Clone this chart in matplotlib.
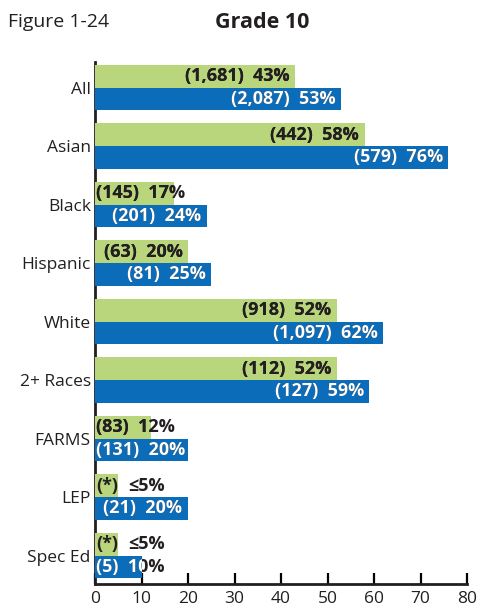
import matplotlib
matplotlib.use('Agg')
import matplotlib.pyplot as plt

plt.rcParams['font.family'] = ['Open Sans', 'DejaVu Sans']

# Data
groups = ['All', 'Asian', 'Black', 'Hispanic', 'White', '2+ Races', 'FARMS', 'LEP', 'Spec Ed']
green_pct = [43, 58, 17, 20, 52, 52, 12, 5, 5]
green_n = ['1,681', '442', '145', '63', '918', '112', '83', '*', '*']
blue_pct = [53, 76, 24, 25, 62, 59, 20, 20, 10]
blue_n = ['2,087', '579', '201', '81', '1,097', '127', '131', '21', '5']
x_ticks = [0, 10, 20, 30, 40, 50, 60, 70, 80]

GREEN = '#b9d67c'
BLUE = '#0b6dba'
DARK = '#231f20'
LBL_SIZE = 13

fig = plt.figure(figsize=(4.83, 6.07), dpi=100)
ax = fig.add_axes([95 / 483, 1 - 584 / 607, 372 / 483, 522 / 607])

h = 0.385
ypos = list(range(len(groups)))
gbars = ax.barh([y - h / 2 for y in ypos], green_pct, height=h, color=GREEN, zorder=3)
bbars = ax.barh([y + h / 2 for y in ypos], blue_pct, height=h, color=BLUE, zorder=3)

ax.set_xlim(0, 80)
ax.set_ylim(8.487, -0.436)
ax.set_xticks(x_ticks)
ax.set_yticks(ypos)
ax.set_yticklabels(groups, fontsize=12.5, color=DARK)
ax.tick_params(axis='x', direction='in', length=8, width=1.6, labelsize=12.5,
               labelcolor=DARK, pad=5)
ax.tick_params(axis='y', direction='in', length=8, width=1.6, pad=3)
for s in ['top', 'right']:
    ax.spines[s].set_visible(False)
for s in ['left', 'bottom']:
    ax.spines[s].set_linewidth(2)
    ax.spines[s].set_color(DARK)

fig.text(8 / 483, 1 - 22 / 607, 'Figure 1-24', fontsize=14, color=DARK, va='center')
fig.text(262 / 483, 1 - 22 / 607, 'Grade 10', fontsize=15.5, fontweight='bold',
         color=DARK, va='center', ha='center')

fig.canvas.draw()
renderer = fig.canvas.get_renderer()


def put_label(bar, text, inside_color):
    y = bar.get_y() + bar.get_height() / 2
    w = bar.get_width()
    kw = dict(fontsize=LBL_SIZE, fontweight='bold', va='center', zorder=5)
    t = ax.annotate(text, (w, y), xytext=(-4, 0), textcoords='offset points',
                    ha='right', color=DARK, **kw)
    ext = t.get_window_extent(renderer)
    x0 = ax.transData.transform((0, 0))[0]
    if ext.x0 < x0 + 1:
        t.remove()
        t = ax.annotate(text, (0, y), xytext=(1, 0), textcoords='offset points',
                        ha='left', color=DARK, **kw)
        t2 = ax.annotate(text, (0, y), xytext=(1, 0), textcoords='offset points',
                         ha='left', color=inside_color, **kw)
    else:
        t2 = ax.annotate(text, (w, y), xytext=(-4, 0), textcoords='offset points',
                         ha='right', color=inside_color, **kw)
    t2.set_clip_path(bar)
    t2.set_zorder(6)


for bar, n, p in zip(gbars, green_n, green_pct):
    if n == '*':
        y = bar.get_y() + bar.get_height() / 2
        ax.annotate('(*)', (0, y), xytext=(1, 0), textcoords='offset points',
                    ha='left', va='center', fontsize=LBL_SIZE, fontweight='bold',
                    color=DARK, zorder=5)
        ax.annotate('\u2264' + str(p) + '%', (0, y), xytext=(24, 0),
                    textcoords='offset points', ha='left', va='center',
                    fontsize=LBL_SIZE, fontweight='bold', color=DARK, zorder=5)
    else:
        put_label(bar, '(' + n + ')  ' + str(p) + '%', DARK)

for bar, n, p in zip(bbars, blue_n, blue_pct):
    put_label(bar, '(' + n + ')  ' + str(p) + '%', 'white')

fig.savefig('out.png', dpi=100)
